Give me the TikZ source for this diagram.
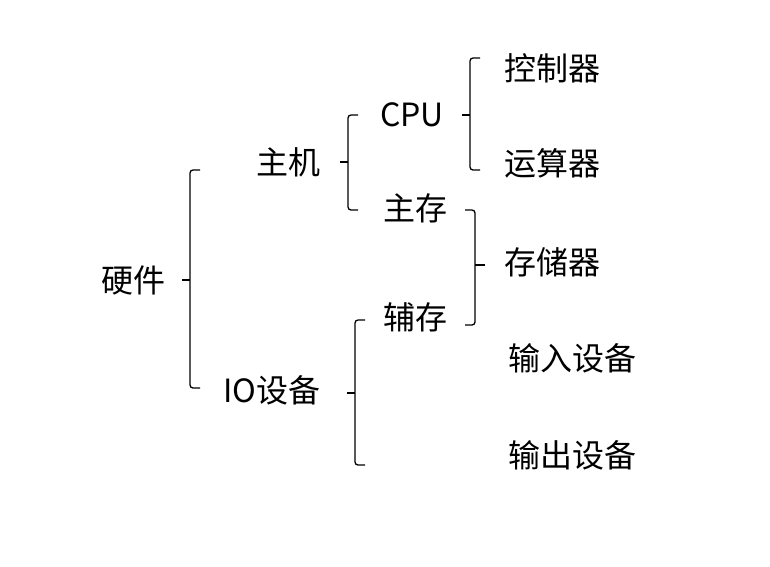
\documentclass[tikz,border=0pt]{standalone}
\usepackage{fontspec}
\setmainfont{Noto Sans CJK SC}
\begin{document}
\begin{tikzpicture}[x=1pt,y=-1pt,
  t/.style={font=\fontsize{32}{36}\selectfont, inner sep=0pt},
  br/.style={line width=1.3pt, rounded corners=3pt}]
\useasboundingbox (0,0) rectangle (770,566);
\node[t] (hw) at (133,280) {硬件};
\node[t] (zj) at (288,162) {主机};
\node[t] (cpu) at (412,115) {CPU};
\node[t] (zc) at (415,208) {主存};
\node[t] (fc) at (415,317) {辅存};
\node[t] (io) at (272,390) {IO设备};
\node[t] (kz) at (552,68) {控制器};
\node[t] (ys) at (552,163) {运算器};
\node[t] (cc) at (552,262) {存储器};
\node[t] (sr) at (572,358) {输入设备};
\node[t] (sc) at (572,455) {输出设备};
% left braces: (x, top, bottom, mid)
\foreach \x/\a/\b/\m in {190/170/388/280, 348/115/210/162, 470/58/170/115, 355/320/465/393}{
  \draw[br] (\x+10,\a) -- (\x,\a) -- (\x,\b) -- (\x+10,\b);
  \draw[line width=1.3pt] (\x,\m) -- (\x-8,\m);
}
% right brace
\draw[br] (465,210) -- (475,210) -- (475,325) -- (465,325);
\draw[line width=1.3pt] (475,265) -- (485,265);
\end{tikzpicture}
\end{document}
